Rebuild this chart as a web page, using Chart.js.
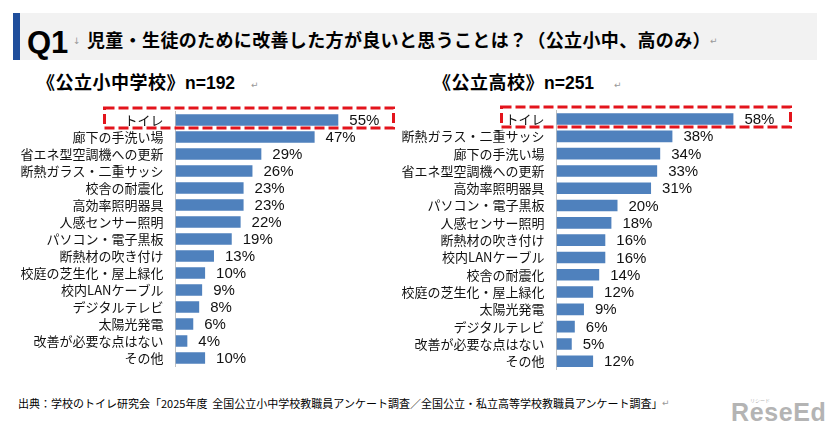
<!DOCTYPE html>
<html><head><meta charset="utf-8">
<script src="https://cdn.jsdelivr.net/npm/chart.js@4/dist/chart.umd.min.js"></script>
<style>
html,body{margin:0;padding:0;background:#fff;}
body{width:826px;height:429px;position:relative;overflow:hidden;font-family:"Noto Sans CJK JP",sans-serif;color:#000;}
.abs{position:absolute;white-space:nowrap;}
#tbar{left:13px;top:13px;width:804px;height:47px;background:#f2f2f2;}
#strip{left:13px;top:13px;width:7px;height:47px;background:#1f4e9c;}
#q1{left:27px;top:26.75px;font:bold 31px "Liberation Sans",Arial,sans-serif;line-height:31px;}
#title{left:87px;top:26.5px;font-size:18px;font-weight:700;line-height:24px;letter-spacing:0.35px;}
.mark{color:#999;font:9px "DejaVu Sans",sans-serif;}
.sub{top:69px;font-size:18px;font-weight:700;line-height:24px;}
.sub .jp{letter-spacing:0.5px;}
.sub .n{font-family:"Liberation Sans",Arial,sans-serif;font-size:17.5px;}
#foot{left:18px;top:395.5px;font-size:11px;line-height:14px;}
#logo{left:731px;top:398px;font:bold 25px "Liberation Sans",Arial,sans-serif;color:#b4b4b4;letter-spacing:0.6px;line-height:28px;}
#logosub{left:750px;top:396px;font-size:5px;color:#b4b4b4;}
</style></head>
<body>
<div class="abs" id="tbar"></div>
<div class="abs" id="strip"></div>
<div class="abs" id="q1">Q1</div>
<div class="abs mark" style="left:73px;top:36px;">↓</div>
<div class="abs" id="title">児童・生徒のために改善した方が良いと思うことは？（公立小中、高のみ）</div>
<div class="abs mark" style="left:710px;top:36px;">↵</div>
<div class="abs sub" style="left:37px;"><span class="jp">《公立小中学校》</span><span class="n">n=192</span></div>
<div class="abs mark" style="left:251px;top:80px;">↵</div>
<div class="abs sub" style="left:433px;"><span class="jp">《公立高校》</span><span class="n">n=251</span></div>
<div class="abs mark" style="left:614px;top:80px;">↵</div>

<div class="abs" style="left:0;top:100px;width:400px;height:270px;"><canvas id="leftChart" width="400" height="270"></canvas></div>
<div class="abs" style="left:400px;top:100px;width:426px;height:275px;"><canvas id="rightChart" width="426" height="275"></canvas></div>

<div class="abs" id="foot">出典：学校のトイレ研究会「2025年度&nbsp;&nbsp;全国公立小中学校教職員アンケート調査／全国公立・私立高等学校教職員アンケート調査」</div>
<div class="abs mark" style="left:662px;top:398px;">↵</div>
<div class="abs" id="logosub">リシード</div>
<div class="abs" id="logo">ReseEd</div>

<script>
const leftCategories = ['トイレ','廊下の手洗い場','省エネ型空調機への更新','断熱ガラス・二重サッシ','校舎の耐震化','高効率照明器具','人感センサー照明','パソコン・電子黒板','断熱材の吹き付け','校庭の芝生化・屋上緑化','校内LANケーブル','デジタルテレビ','太陽光発電','改善が必要な点はない','その他'];
const leftValues = [55,47,29,26,23,23,22,19,13,10,9,8,6,4,10];

const rightCategories = ['トイレ','断熱ガラス・二重サッシ','廊下の手洗い場','省エネ型空調機への更新','高効率照明器具','パソコン・電子黒板','人感センサー照明','断熱材の吹き付け','校内LANケーブル','校舎の耐震化','校庭の芝生化・屋上緑化','太陽光発電','デジタルテレビ','改善が必要な点はない','その他'];
const rightValues = [58,38,34,33,31,20,18,16,16,14,12,9,6,5,12];

const valueLabelPlugin = {
  id:'valueLabels',
  afterDatasetsDraw(chart){
    const ctx = chart.ctx;
    const meta = chart.getDatasetMeta(0);
    const vals = chart.data.datasets[0].data;
    ctx.save();
    ctx.font = '15px "Liberation Sans", Arial, sans-serif';
    ctx.fillStyle = '#111';
    ctx.textBaseline = 'middle';
    ctx.textAlign = 'left';
    meta.data.forEach((bar,i)=>{ ctx.fillText(vals[i] + '%', bar.x + 11, bar.y + 1); });
    ctx.restore();
  }
};

const boxPlugin = {
  id:'highlightBox',
  afterDraw(chart, args, opts){
    const ctx = chart.ctx;
    const y = chart.scales.y.getPixelForValue(0);
    const left = chart.chartArea.left - opts.leftOffset;
    ctx.save();
    ctx.setLineDash([10,4]);
    ctx.lineWidth = 3;
    ctx.strokeStyle = '#e3141c';
    ctx.strokeRect(left, y - 12, opts.width, 20);
    ctx.restore();
  }
};

function makeChart(id, labels, values, cfg){
  return new Chart(document.getElementById(id), {
    type:'bar',
    data:{labels:labels, datasets:[{data:values, backgroundColor:'#4f81bd', borderWidth:0, barPercentage:0.67, categoryPercentage:1}]},
    options:{
      indexAxis:'y', responsive:false, animation:false, events:[],
      layout:{padding:{top:cfg.padTop, bottom:cfg.padBottom, right:cfg.padRight, left:0}},
      plugins:{legend:{display:false}, tooltip:{enabled:false}, title:{display:false},
        highlightBox:{leftOffset:cfg.boxOffset, width:289}},
      scales:{
        x:{display:false, min:0, max:75},
        y:{
          afterFit(s){ s.width = cfg.axisWidth; s.paddingTop = 0; s.paddingBottom = 0; },
          grid:{display:false, drawTicks:false},
          border:{display:true, color:'#c0c0c0', width:1},
          ticks:{padding:12, color:'#111', autoSkip:false, font:{family:'"Noto Sans CJK JP", sans-serif', size:13}}
        }
      }
    },
    plugins:[valueLabelPlugin, boxPlugin]
  });
}

makeChart('leftChart', leftCategories, leftValues, {padTop:11.5, padBottom:3.5, padRight:2.5, axisWidth:175.5, boxOffset:71});
makeChart('rightChart', rightCategories, rightValues, {padTop:10.4, padBottom:5.1, padRight:40.75, axisWidth:156.5, boxOffset:55});
</script>
</body></html>
